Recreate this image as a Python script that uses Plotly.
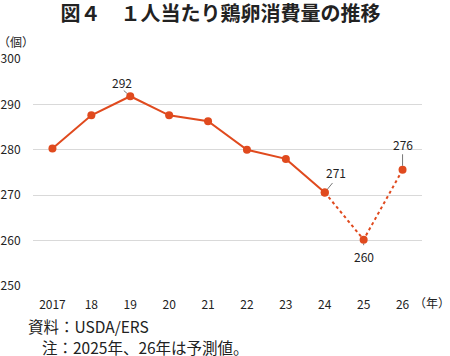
import plotly.graph_objects as go

years = ["2017", "18", "19", "20", "21", "22", "23", "24", "25", "26"]
values = [280.3, 287.6, 291.8, 287.6, 286.3, 280.0, 278.0, 270.6, 260.2, 275.6]
forecast_from = 7  # index of 2024; 2025 and 2026 are forecasts
y_ticks = [250, 260, 270, 280, 290, 300]
labeled = {"19": "292", "24": "271", "25": "260", "26": "276"}

COLOR = "#E04A1E"
FONT = "Noto Sans CJK JP"

fig = go.Figure()
fig.add_trace(go.Scatter(
    x=years[:forecast_from + 1], y=values[:forecast_from + 1],
    mode="lines+markers",
    line=dict(color=COLOR, width=2),
    marker=dict(color=COLOR, size=8),
    showlegend=False, hoverinfo="skip"))
fig.add_trace(go.Scatter(
    x=years[forecast_from:], y=values[forecast_from:],
    mode="lines+markers",
    line=dict(color=COLOR, width=2, dash="3px,3px"),
    marker=dict(color=COLOR, size=8),
    showlegend=False, hoverinfo="skip"))

# label placement styles (pixel offsets)
label_style = {
    "19": dict(xshift=-8, yshift=14, lead=(-8, -7)),
    "24": dict(xshift=11, yshift=20, lead=(9, -11)),
    "25": dict(xshift=0, yshift=-17, lead=(0, 7)),
    "26": dict(xshift=0, yshift=25, lead=(0, -17)),
}
annotations = []
for yr, txt in labeled.items():
    i = years.index(yr)
    st = label_style[yr]
    annotations.append(dict(
        x=i, y=values[i], xref="x", yref="y", text=txt, showarrow=False,
        xshift=st["xshift"], yshift=st["yshift"],
        font=dict(family=FONT, size=12, color="#222")))
    annotations.append(dict(
        x=i, y=values[i], xref="x", yref="y", text="", showarrow=True,
        ax=st["lead"][0], ay=st["lead"][1], arrowhead=0, arrowwidth=0.8,
        arrowcolor="#555", standoff=4))

annotations += [
    dict(text="（個）", xref="paper", yref="paper", x=0, y=1, xanchor="left",
         yanchor="bottom", xshift=-37, yshift=7, showarrow=False,
         font=dict(family=FONT, size=12, color="#222")),
    dict(text="（年）", xref="paper", yref="paper", x=1, y=0, xanchor="left",
         yanchor="middle", xshift=-10, yshift=-16, showarrow=False,
         font=dict(family=FONT, size=12, color="#222")),
    dict(text="資料：USDA/ERS", xref="paper", yref="paper", x=0, y=0,
         xanchor="left", yanchor="middle", xshift=-7, yshift=-40,
         showarrow=False, font=dict(family=FONT, size=15.5, color="#222")),
    dict(text="注：2025年、26年は予測値。", xref="paper", yref="paper", x=0, y=0,
         xanchor="left", yanchor="middle", xshift=7, yshift=-61,
         showarrow=False, font=dict(family=FONT, size=15.5, color="#222")),
]

fig.update_layout(
    width=450, height=356,
    margin=dict(l=33, r=28, t=59, b=70, autoexpand=False),
    paper_bgcolor="white", plot_bgcolor="white",
    title=dict(text="<b>図４　１人当たり鶏卵消費量の推移</b>", x=0.49, xanchor="center",
               y=0.96, yanchor="middle",
               font=dict(family=FONT, size=20, color="#222")),
    font=dict(family=FONT, size=12, color="#222"),
    annotations=annotations,
    xaxis=dict(type="category", categoryorder="array", categoryarray=years,
               range=[-0.5, len(years) - 0.5], automargin=False,
               showgrid=False, showline=False, zeroline=False,
               ticks="outside", ticklen=8, tickcolor="rgba(0,0,0,0)",
               tickfont=dict(family=FONT, size=12, color="#222")),
    yaxis=dict(range=[250, 300], tickvals=y_ticks, showgrid=True, automargin=False,
               gridcolor="#d9d9d9", gridwidth=1, zeroline=False, showline=False,
               ticks="outside", ticklen=9, tickcolor="rgba(0,0,0,0)",
               tickfont=dict(family=FONT, size=12, color="#222")),
)

fig.write_html("out.html", config={"displayModeBar": False, "staticPlot": True},
               post_script="document.body.style.margin='0';document.body.style.overflow='hidden';")
